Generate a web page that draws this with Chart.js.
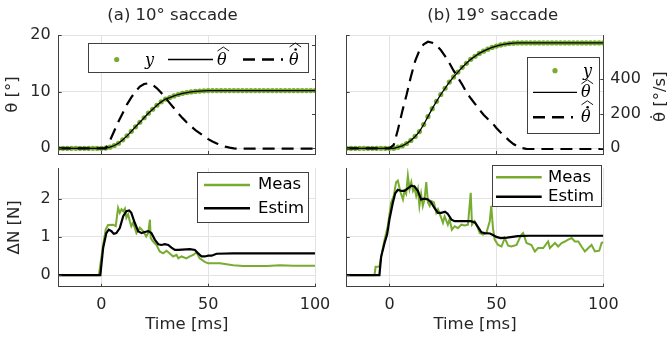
<!DOCTYPE html>
<html lang="en">
<head>
<meta charset="UTF-8" />
<title>Saccade estimation</title>
<style>
  body { margin: 0; background: #fff; }
  #wrap { position: relative; width: 667px; height: 341px; }
  canvas { position: absolute; left: 0; top: 0; }
</style>
<script src="https://cdn.jsdelivr.net/npm/chart.js"></script>
</head>
<body>
<div id="wrap">
  <canvas id="topA" width="667" height="341"></canvas>
  <canvas id="topB" width="667" height="341"></canvas>
  <canvas id="botA" width="667" height="341"></canvas>
  <canvas id="botB" width="667" height="341"></canvas>
</div>
<script>
// ---- data ----
// top panels: sample times [ms]
const tTop = [-20,-18,-16,-14,-12,-10,-8,-6,-4,-2,0,2,4,6,8,10,12,14,16,18,20,22,24,26,28,30,32,34,36,38,40,
  42,44,46,48,50,52,54,56,58,60,62,64,66,68,70,72,74,76,78,80,82,84,86,88,90,92,94,96,98,100];

// (a) 10 deg saccade: angle [deg] and velocity [deg/s]
const thetaA = [0,0,0,0,0,0,0,0,0,0,0,
  0.05,0.2,0.5,0.9,1.5,2.2,3.0,3.8,4.6,5.4,
  6.2,6.9,7.6,8.2,8.7,8.95,9.25,9.5,9.7,9.85,
  9.95,10.05,10.1,10.15,10.2,
  10.2,10.2,10.2,10.2,10.2,10.2,10.2,10.2,10.2,10.2,10.2,10.2,10.2,
  10.2,10.2,10.2,10.2,10.2,10.2,10.2,10.2,10.2,10.2,10.2,10.2];
const dThetaA = [0,0,0,0,0,0,0,0,0,0,0,0,
  45,100,155,205,255,295,330,358,373,377,
  368,348,322,292,262,232,202,175,150,127,
  106,88,70,53,40,28,18,10,4,0,
  -2,-2,-2,-2,-2,-2,-2,-2,-2,-2,-2,-2,-2,-2,-2,-2,-2,-2,-2];

// (b) 19 deg saccade
const thetaB = [0,0,0,0,0,0,0,0,0,0,0,0,
  0.2,0.45,0.85,1.4,2.1,2.95,4.2,5.6,7.0,8.3,
  9.5,10.6,11.7,12.6,13.45,14.3,15.0,15.7,16.25,16.75,
  17.15,17.5,17.8,18.05,18.25,18.4,18.5,18.55,18.6,
  18.6,18.6,18.6,18.6,18.6,18.6,18.6,18.6,18.6,18.6,
  18.6,18.6,18.6,18.6,18.6,18.6,18.6,18.6,18.6,18.6];
const dThetaB = [0,0,0,0,0,0,0,0,0,0,0,
  20,110,215,310,415,505,568,603,618,612,
  597,570,535,495,450,410,370,325,290,258,
  225,195,170,148,118,92,68,45,25,10,
  2,-3,
  -4,-4,-4,-4,-4,-4,-4,-4,-4,-4,-4,-4,-4,-4,-4,-4,-4,-4];

// bottom panels: force change [N]
const tMeasA = [-20,-1.2,0.8,2,3.1,5.5,6.7,7.8,8.6,9.4,10.2,11,11.7,12.5,13.3,14,14.8,15.6,16.4,18,19.5,21,21.9,
  22.7,23.1,24.2,25.8,27.3,28.9,30.5,32,33.6,35.2,36,37.5,39.8,41.4,43,44.5,46,48.4,50,55.5,61.7,66.4,77.4,
  83.6,89.8,100];
const measA = [0,0,0.79,1.19,1.31,1.32,1.28,1.76,1.63,1.72,1.67,1.74,1.5,1.59,1.41,1.28,1.37,1.24,1.1,1.24,1.15,1.01,1.1,
  1.45,0.97,0.88,0.79,0.62,0.57,0.64,0.57,0.49,0.53,0.44,0.49,0.44,0.49,0.53,0.6,0.44,0.35,0.31,0.31,0.26,0.24,0.24,
  0.26,0.25,0.25];
const tEstA = [-20,-0.5,0.8,2.3,3.4,4.7,5.8,7,8.6,10.2,11.7,13,14,15.6,17.2,18.8,20.3,21.9,23.4,25,26.6,28.1,29.7,
  31.3,32.8,34.4,36,41.4,43.8,45.3,46.9,48.4,50,51.6,53.9,61.7,100];
const estA = [0,0,0.71,1.1,1.19,1.15,1.08,1.1,1.23,1.54,1.67,1.69,1.63,1.37,1.15,1.1,1.13,1.15,1.1,0.93,0.81,0.79,0.81,
  0.79,0.72,0.66,0.66,0.68,0.66,0.57,0.49,0.49,0.51,0.51,0.56,0.57,0.57];

const tMeasB = [-20,-7,-6.5,-4.7,-3.9,-2.3,-0.8,0.8,2,3.1,3.9,5.2,6.3,7,7.8,8.6,9.4,10.2,11,11.7,12.5,13.3,14,14.8,
  15.6,16.4,17.2,18,18.8,19.5,20.8,21.9,22.7,24.2,25,25.8,27.3,28.1,29.2,30.5,32,33.6,35.2,36.7,38,38.6,39.8,41.4,
  42.2,43.8,45.3,46.9,47.6,48.4,49.2,50.8,52.4,53.9,55.5,57,59.4,61.7,62.5,64.1,66.4,68,69.5,71.9,74.2,75,77.4,
  78.9,80.5,82,83.6,85.2,86.7,88.3,89.8,91.4,93,94.5,96.1,98.1,99.2,100];
const measB = [0,0,0.22,0.22,0.48,0.93,1.28,1.9,2.07,2.43,2.47,2.16,1.98,2.2,2.12,2.6,2.25,2.43,2.2,2.29,2.07,2.25,1.81,2.12,
  1.81,1.98,2.43,1.9,1.81,1.94,1.9,1.63,1.72,1.5,1.37,1.54,1.32,1.46,1.19,1.28,1.23,1.32,1.3,1.32,2.15,1.32,1.41,1.23,
  1.1,1.06,1.1,1.41,1.81,1.23,0.93,0.79,0.75,0.97,0.77,0.75,0.79,1.06,1.1,0.84,0.79,0.62,0.71,0.71,0.88,0.71,0.84,
  0.75,0.84,0.88,0.93,0.97,0.88,0.88,0.75,0.62,0.71,0.79,0.62,0.64,0.84,0.86];
const tEstB = [-20,-4.7,-3.9,-2.3,-1.1,0,1.6,2.7,3.9,5.5,7,8.6,10.2,11.7,13.3,14.8,16.4,18,19.5,21.1,22.7,24.2,26,27.3,
  29,30.5,32,38,40,41.5,43,44.5,47,48.4,50,52,55,60,65,100];
const estB = [0,0,0.48,0.84,1.06,1.46,1.9,2.14,2.23,2.2,2.2,2.27,2.34,2.32,2.2,1.98,2.0,1.98,1.9,1.75,1.63,1.63,1.66,1.6,
  1.45,1.41,1.41,1.41,1.38,1.25,1.12,1.1,1.09,1.05,1.0,0.97,0.98,1.02,1.03,1.03];

const xTicks = [0, 50, 100];
const thetaTicks = [0, 10, 20];
const rateTicksA = [0, 200, 400, 600];
const rateTicksB = [0, 200, 400];
const forceTicks = [0, 1, 2];

// ---- styling ----
const FONT = "'DejaVu Sans', sans-serif";
const MATH = "italic 16px 'DejaVu Serif'";
const INK = '#262626';
const AXIS = '#404040';
const GRID = '#e3e3e3';
const GREEN = '#77AC30';

const pts = (t, v) => t.map((x, i) => ({ x: x, y: v[i] }));

// legend label; combining hat / dot drawn as accents over the base glyph
function drawLabel(ctx, label, x, y) {
  const base = label.replace(/[\u0302\u0307]/g, '');
  ctx.fillText(base, x, y);
  const w = ctx.measureText(base).width;
  const hasDot = label.includes('\u0307');
  if (hasDot) {
    ctx.beginPath();
    ctx.arc(x + w / 2 + 1.8, y - 11, 1.3, 0, Math.PI * 2);
    ctx.fill();
  }
  if (label.includes('\u0302')) {
    const b = hasDot ? y - 13.5 : y - 9.5;
    ctx.save();
    ctx.strokeStyle = '#000';
    ctx.lineWidth = 0.9;
    ctx.setLineDash([]);
    ctx.beginPath();
    ctx.moveTo(x + 0.5, b);
    ctx.lineTo(x + w / 2 + 1.5, b - 4);
    ctx.lineTo(x + w + 2.5, b);
    ctx.stroke();
    ctx.restore();
  }
}

// inward tick marks, boxed legends and free text
const extras = {
  id: 'extras',
  afterDraw(chart, args, o) {
    const ctx = chart.ctx, a = chart.chartArea;
    ctx.save();
    ctx.strokeStyle = AXIS;
    ctx.lineWidth = 1;
    for (const s of Object.values(chart.scales)) {
      for (const t of s.ticks) {
        const p = Math.round(s.getPixelForValue(t.value)) + 0.5;
        ctx.beginPath();
        if (s.position === 'left') { ctx.moveTo(a.left, p); ctx.lineTo(a.left + 3, p); }
        else if (s.position === 'right') { ctx.moveTo(a.right, p); ctx.lineTo(a.right - 3, p); }
        else { ctx.moveTo(p, a.bottom); ctx.lineTo(p, a.bottom - 3); }
        ctx.stroke();
      }
    }
    const L = o.legend;
    if (L) {
      ctx.fillStyle = '#fff';
      ctx.fillRect(L.x, L.y, L.w, L.h);
      ctx.strokeStyle = AXIS;
      ctx.lineWidth = 1;
      ctx.strokeRect(L.x + 0.5, L.y + 0.5, L.w, L.h);
      for (const it of L.items) {
        const ds = chart.data.datasets[it.ds];
        if (it.dot) {
          ctx.fillStyle = ds.pointBackgroundColor;
          ctx.beginPath();
          ctx.arc(it.x1, it.y, 2.6, 0, Math.PI * 2);
          ctx.fill();
        } else {
          ctx.strokeStyle = ds.borderColor;
          ctx.lineWidth = it.lw || ds.borderWidth;
          ctx.setLineDash(ds.borderDash || []);
          ctx.beginPath();
          ctx.moveTo(it.x1, it.y);
          ctx.lineTo(it.x2, it.y);
          ctx.stroke();
          ctx.setLineDash([]);
        }
        ctx.fillStyle = '#000';
        ctx.font = L.font;
        ctx.textAlign = 'left';
        ctx.textBaseline = 'middle';
        drawLabel(ctx, ds.label, it.tx, it.y + (L.dy || 0));
      }
    }
    for (const t of o.texts || []) {
      ctx.save();
      ctx.translate(t.x, t.y);
      ctx.rotate(t.rot || 0);
      ctx.font = t.font;
      ctx.fillStyle = INK;
      ctx.textAlign = 'center';
      ctx.textBaseline = 'middle';
      ctx.fillText(t.text, 0, 0);
      ctx.restore();
    }
    ctx.restore();
  }
};

function xScale(labels, h) {
  return {
    type: 'linear', position: 'bottom', min: -20, max: 100,
    afterBuildTicks: s => { s.ticks = xTicks.map(v => ({ value: v })); },
    afterFit: s => { s.height = h; },
    grid: { color: GRID, drawTicks: false },
    border: { color: AXIS },
    ticks: { display: labels, padding: 9, color: INK, font: { family: FONT, size: 16 } },
    title: { display: labels, text: 'Time [ms]', color: INK, font: { family: FONT, size: 16.5 },
             padding: { top: 0, bottom: 6.5 } }
  };
}

function yScale(pos, min, max, ticks, w, labels, title, tpad, onArea) {
  return {
    type: 'linear', position: pos, min: min, max: max,
    afterBuildTicks: s => { s.ticks = ticks.map(v => ({ value: v })); },
    afterFit: s => { s.width = w; },
    grid: { color: GRID, drawTicks: false, drawOnChartArea: onArea },
    border: { color: AXIS },
    ticks: { display: labels, padding: pos === 'left' ? 8 : 7, color: INK, font: { family: FONT, size: 16 } },
    title: { display: !!title, text: title || '', color: INK, font: { family: FONT, size: 16.5 },
             padding: { top: tpad, bottom: 0 } }
  };
}

function topDatasets(theta, rate) {
  return [
    { label: 'θ\u0302', data: pts(tTop, theta), borderColor: '#000', borderWidth: 1.3,
      pointRadius: 0, yAxisID: 'y' },
    { label: 'θ\u0307\u0302', data: pts(tTop, rate), borderColor: '#000', borderWidth: 2.2,
      borderDash: [12, 7], pointRadius: 0, yAxisID: 'y1' },
    { label: 'y', data: pts(tTop, theta), showLine: false, pointRadius: 2.6, pointBorderWidth: 0,
      pointBackgroundColor: GREEN, borderColor: GREEN, yAxisID: 'y' }
  ];
}

function botDatasets(tm, m, te, e) {
  return [
    { label: 'Estim', data: pts(te, e), borderColor: '#000', borderWidth: 2.2, pointRadius: 0 },
    { label: 'Meas', data: pts(tm, m), borderColor: GREEN, borderWidth: 2, pointRadius: 0 }
  ];
}

const common = { responsive: false, animation: false, events: [] };

new Chart(document.getElementById('topA'), {
  type: 'line',
  data: { datasets: topDatasets(thetaA, dThetaA) },
  plugins: [extras],
  options: Object.assign({}, common, {
    layout: { padding: { left: 0, top: 35, right: 334, bottom: 181 } },
    scales: {
      x: xScale(false, 6),
      y: yScale('left', -1, 20, thetaTicks, 58.7, true, 'θ [°]', 3.3, true),
      y1: yScale('right', -33, 657, rateTicksA, 18, false, null, 0, false)
    },
    plugins: {
      legend: { display: false }, tooltip: { enabled: false },
      extras: {
        legend: { x: 88, y: 43, w: 220, h: 29, font: MATH, dy: 1, items: [
          { ds: 2, dot: true, x1: 116.7, y: 59.5, tx: 145 },
          { ds: 0, x1: 168, x2: 213, y: 59.5, tx: 217 },
          { ds: 1, x1: 243, x2: 283, y: 59.5, tx: 289, lw: 2.6 }
        ] },
        texts: [{ text: '(a) 10° saccade', x: 172.5, y: 15.5, font: "16.5px " + FONT }]
      }
    }
  })
});

new Chart(document.getElementById('topB'), {
  type: 'line',
  data: { datasets: topDatasets(thetaB, dThetaB) },
  plugins: [extras],
  options: Object.assign({}, common, {
    layout: { padding: { left: 333, top: 35, right: 0, bottom: 181 } },
    scales: {
      x: xScale(false, 6),
      y: yScale('left', -1, 20, thetaTicks, 13.7, false, null, 0, true),
      y1: yScale('right', -33, 657, rateTicksB, 63.7, true, null, 0, false)
    },
    plugins: {
      legend: { display: false }, tooltip: { enabled: false },
      extras: {
        legend: { x: 527, y: 57, w: 72, h: 76, font: MATH, dy: 1, items: [
          { ds: 2, dot: true, x1: 555, y: 70.7, tx: 583 },
          { ds: 0, x1: 533, x2: 577, y: 92.3, tx: 581 },
          { ds: 1, x1: 533, x2: 573, y: 117.3, tx: 581, lw: 2.6 }
        ] },
        texts: [
          { text: '(b) 19° saccade', x: 492.7, y: 15.5, font: "16.5px " + FONT },
          { text: 'θ\u0307 [°/s]', x: 661, y: 96.7, rot: -Math.PI / 2, font: "16.5px " + FONT }
        ]
      }
    }
  })
});

new Chart(document.getElementById('botA'), {
  type: 'line',
  data: { datasets: botDatasets(tMeasA, measA, tEstA, estA) },
  plugins: [extras],
  options: Object.assign({}, common, {
    layout: { padding: { left: 0, top: 168, right: 352, bottom: 0 } },
    scales: {
      x: xScale(true, 54.3),
      y: yScale('left', -0.3, 2.8, forceTicks, 58.7, true, 'ΔN [N]', 4.8, true)
    },
    plugins: {
      legend: { display: false }, tooltip: { enabled: false },
      extras: {
        legend: { x: 197, y: 172, w: 111, h: 50, font: "16.5px " + FONT, items: [
          { ds: 1, x1: 204, x2: 250, y: 185, tx: 258, lw: 2.4 },
          { ds: 0, x1: 204, x2: 250, y: 208.3, tx: 258, lw: 2.6 }
        ] }
      }
    }
  })
});

new Chart(document.getElementById('botB'), {
  type: 'line',
  data: { datasets: botDatasets(tMeasB, measB, tEstB, estB) },
  plugins: [extras],
  options: Object.assign({}, common, {
    layout: { padding: { left: 333, top: 168, right: 63.7, bottom: 0 } },
    scales: {
      x: xScale(true, 54.3),
      y: yScale('left', -0.3, 2.8, forceTicks, 13.7, false, null, 0, true)
    },
    plugins: {
      legend: { display: false }, tooltip: { enabled: false },
      extras: {
        legend: { x: 492, y: 165, w: 109, h: 41, font: "16.5px " + FONT, items: [
          { ds: 1, x1: 496, x2: 541.7, y: 177.3, tx: 548, lw: 2.4 },
          { ds: 0, x1: 496, x2: 541.7, y: 196.7, tx: 548, lw: 2.6 }
        ] }
      }
    }
  })
});
</script>
</body>
</html>
